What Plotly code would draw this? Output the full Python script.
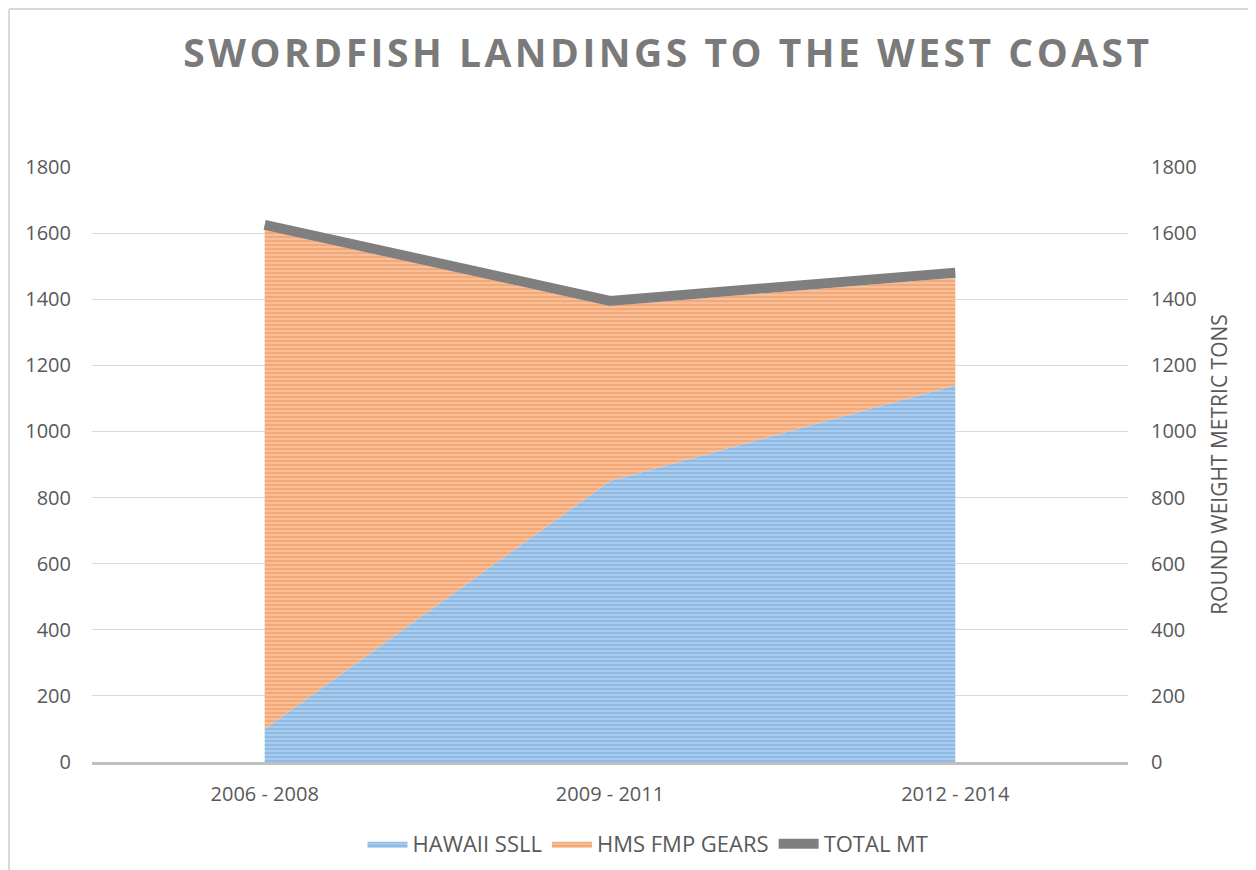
import plotly.graph_objects as go

categories = ["2006 - 2008", "2009 - 2011", "2012 - 2014"]
hawaii_ssll = [100, 850, 1140]
hms_fmp_gears = [1510, 530, 325]
total_mt = [1625, 1395, 1480]
y_ticks = [0, 200, 400, 600, 800, 1000, 1200, 1400, 1600, 1800]

# page body has an 8px margin, so the figure is laid out 8px smaller
W, H = 1248, 862
L, R, T, B = 84, 128, 159, 108
PW, PH = W - L - R, H - T - B

TXT = "#595959"
FONT = "Open Sans"

fig = go.Figure()
fig.add_trace(go.Scatter(
    x=categories, y=hawaii_ssll, name="HAWAII SSLL", stackgroup="one",
    mode="lines", line=dict(width=0, color="#5B9BD5"),
    fillcolor="#A9C9EB",
    fillpattern=dict(shape="-", bgcolor="#A9CBEC", fgcolor="#5B9BD5", size=4, solidity=0.35),
))
fig.add_trace(go.Scatter(
    x=categories, y=hms_fmp_gears, name="HMS FMP GEARS", stackgroup="one",
    mode="lines", line=dict(width=0, color="#ED7D31"),
    fillcolor="#F5B185",
    fillpattern=dict(shape="-", bgcolor="#F7BE98", fgcolor="#ED7D31", size=4, solidity=0.35),
))
fig.add_trace(go.Scatter(
    x=categories, y=total_mt, name="TOTAL MT", mode="lines",
    line=dict(width=10, color="#7F7F7F"), yaxis="y2",
))

axis_common = dict(range=[0, 1800], tickvals=y_ticks, showline=False, zeroline=False,
                   tickfont=dict(family=FONT, size=20, color=TXT), fixedrange=True)

title_text = ('<span style="letter-spacing:3.5px">'
              '<b>SWORDFISH LANDINGS TO THE WEST COAST</b></span>')

fig.update_layout(
    width=W, height=H,
    margin=dict(l=L, r=R, t=T, b=B, autoexpand=False),
    paper_bgcolor="white", plot_bgcolor="white",
    title=dict(text=title_text,
               font=dict(family=FONT, size=39, color="#7A7A7A"),
               x=660 / W, xanchor="center", y=1 - 45 / H, yanchor="middle"),
    xaxis=dict(type="category", range=[-0.5, 2.5], showgrid=False, showline=True,
               linecolor="#BFBFBF", linewidth=3, ticks="", ticklabelstandoff=12,
               tickfont=dict(family=FONT, size=20, color=TXT)),
    yaxis=dict(**axis_common, showgrid=True, gridcolor="#D9D9D9", gridwidth=1,
               ticklabelstandoff=20),
    yaxis2=dict(**axis_common, overlaying="y", side="right", showgrid=False,
                ticklabelstandoff=22,
                title=dict(text="ROUND WEIGHT METRIC TONS", standoff=16,
                           font=dict(family=FONT, size=21, color=TXT))),
    legend=dict(orientation="h", xref="container", yref="container",
                x=640 / W, xanchor="center",
                y=1 - 836 / H, yanchor="middle",
                font=dict(family=FONT, size=22, color=TXT), itemwidth=40,
                traceorder="normal"),
    showlegend=True,
)

# chart frame border (left and top edges visible)
fx = -(L - 1) / PW
fy = 1 + (T - 1) / PH
fig.add_shape(type="line", xref="paper", yref="paper",
              x0=fx, x1=fx, y0=-B / PH, y1=fy,
              line=dict(color="#D9D9D9", width=2))
fig.add_shape(type="line", xref="paper", yref="paper",
              x0=fx, x1=1 + R / PW, y0=fy, y1=fy,
              line=dict(color="#D9D9D9", width=2))

fig.write_html("out.html")
